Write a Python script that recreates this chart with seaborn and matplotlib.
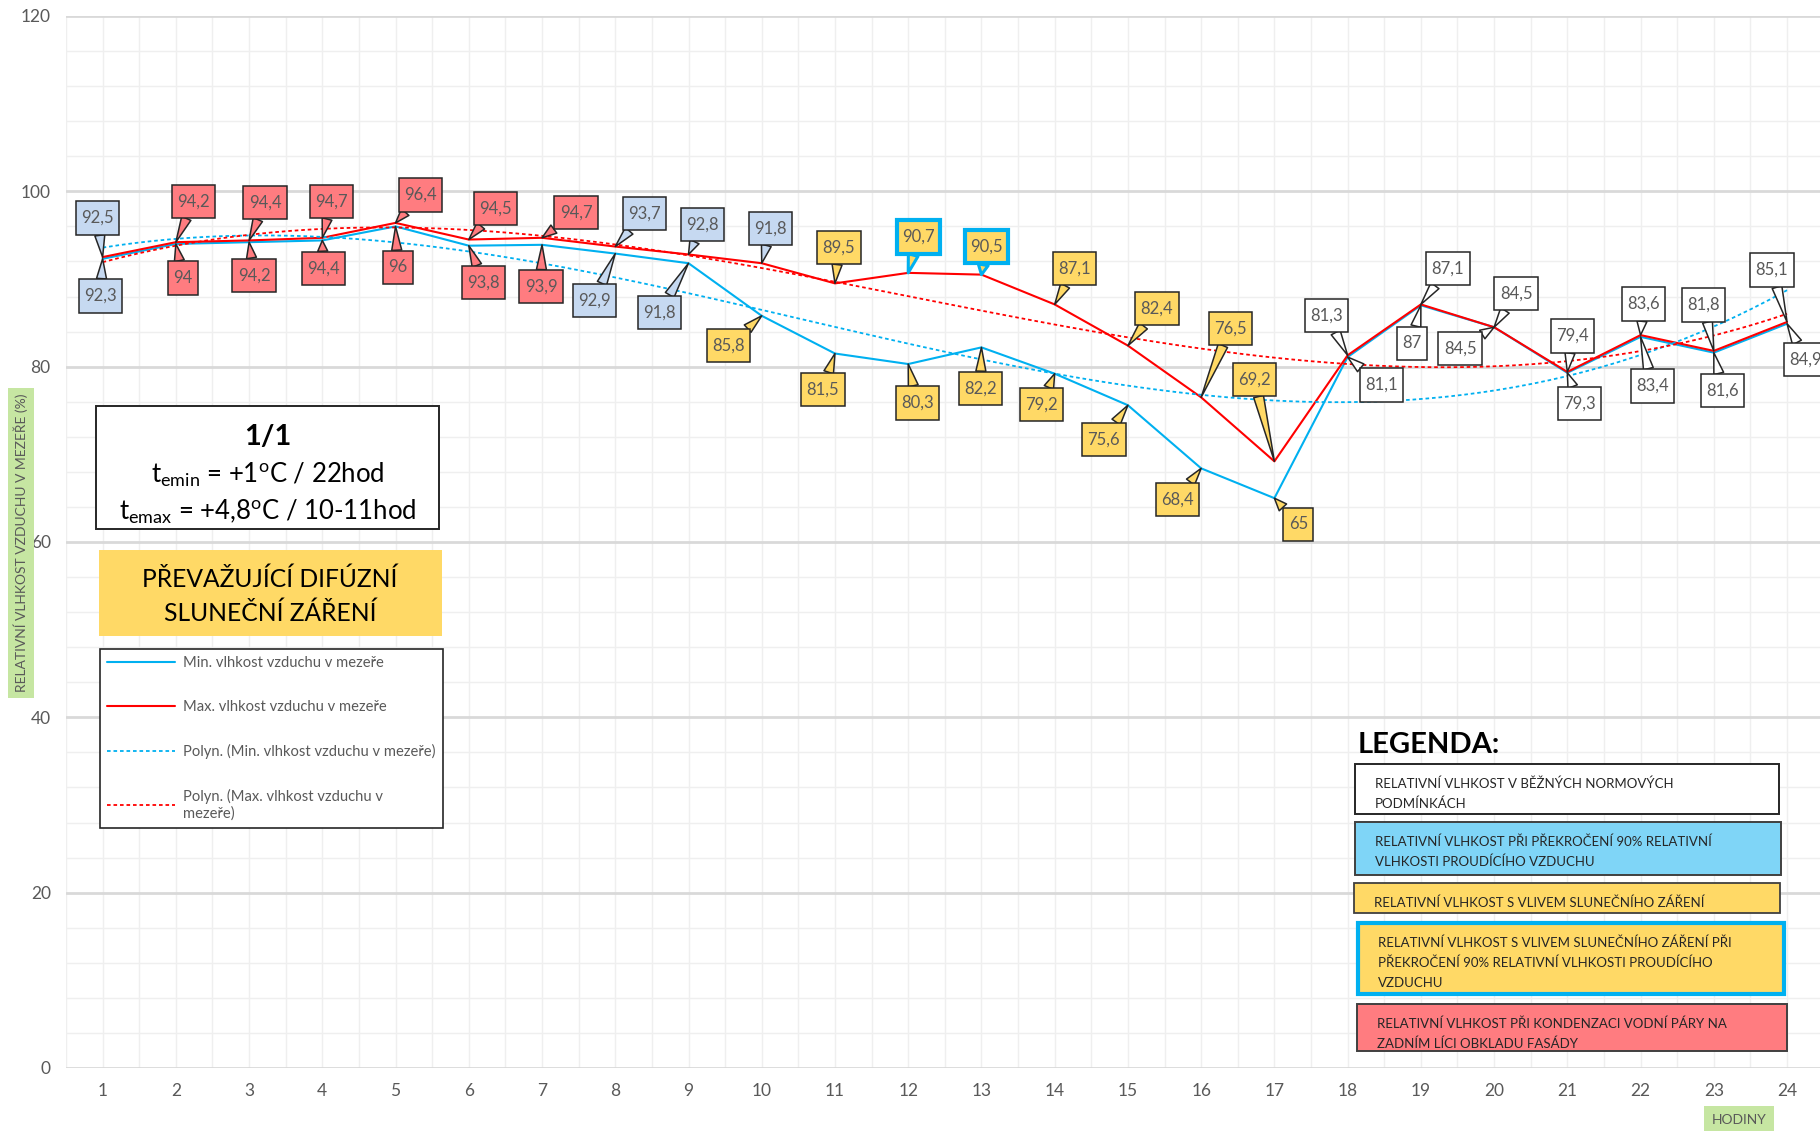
import numpy as np
import matplotlib.pyplot as plt
import seaborn as sns
from matplotlib.patches import Rectangle
from matplotlib.path import Path

# hodiny a relativni vlhkost v mezere (%)
hours = list(range(1, 25))
min_rh = [92.3, 94, 94.2, 94.4, 96, 93.8, 93.9, 92.9, 91.8, 85.8, 81.5, 80.3,
          82.2, 79.2, 75.6, 68.4, 65, 81.1, 87, 84.5, 79.3, 83.4, 81.6, 84.9]
max_rh = [92.5, 94.2, 94.4, 94.7, 96.4, 94.5, 94.7, 93.7, 92.8, 91.8, 89.5, 90.7,
          90.5, 87.1, 82.4, 76.5, 69.2, 81.3, 87.1, 84.5, 79.4, 83.6, 81.8, 85.1]
# typ stitku: b = bezne (modre), r = kondenzace, y = slunce, c = slunce + >90%, w = normove
max_kind = list('brrrrrrbbbyccyyyywwwwwww')
min_kind = list('brrrrrrbbyyyyyyyywwwwwww')
y_ticks = [0, 20, 40, 60, 80, 100, 120]

series_labels = ['Min. vlhkost vzduchu v mezeře', 'Max. vlhkost vzduchu v mezeře',
                 'Polyn. (Min. vlhkost vzduchu v mezeře)',
                 'Polyn. (Max. vlhkost vzduchu v\nmezeře)']
legend_rows = [
    ['RELATIVNÍ VLHKOST V BĚŽNÝCH NORMOVÝCH', 'PODMÍNKÁCH'],
    ['RELATIVNÍ VLHKOST PŘI PŘEKROČENÍ 90% RELATIVNÍ', 'VLHKOSTI PROUDÍCÍHO VZDUCHU'],
    ['RELATIVNÍ VLHKOST S VLIVEM SLUNEČNÍHO ZÁŘENÍ'],
    ['RELATIVNÍ VLHKOST S VLIVEM SLUNEČNÍHO ZÁŘENÍ PŘI',
     'PŘEKROČENÍ 90% RELATIVNÍ VLHKOSTI PROUDÍCÍHO', 'VZDUCHU'],
    ['RELATIVNÍ VLHKOST PŘI KONDENZACI VODNÍ PÁRY NA', 'ZADNÍM LÍCI OBKLADU FASÁDY'],
]

# polohy stitku (pixely od bodu, y dolu)
max_offsets = [(-5, -39), (18, -41), (16, -38), (9, -36), (25, -28), (27, -31),
               (34, -25), (29, -33), (14, -30), (9, -35), (4, -36), (10, -36),
               (5, -28), (20, -36), (29, -37), (29, -69), (-20, -82), (-21, -40),
               (27, -36), (22, -34), (5, -36), (3, -31), (-10, -46), (-15, -52)]
min_offsets = [(-2, 37), (7, 34), (5, 33), (1, 28), (2, 41), (15, 37),
               (-1, 42), (-21, 47), (-29, 49), (-33, 30), (-12, 36), (9, 39),
               (-1, 41), (-13, 31), (-24, 34), (-24, 31), (24, 26), (34, 28),
               (-9, 38), (-34, 21), (12, 31), (12, 49), (9, 38), (19, 36)]

BLUE = '#00B0F0'
RED = '#FF0000'
YELLOW = '#FFD966'
KIND_STYLE = {
    'b': ('#C6D9F1', '#262626', 1.1),
    'r': ('#FF7C80', '#262626', 1.1),
    'y': (YELLOW, '#262626', 1.1),
    'c': (YELLOW, BLUE, 3.0),
    'w': ('white', '#262626', 1.1),
}
TREND_ORDER = 3

W, H = 1820, 1131

sns.set_theme(style='white')
plt.rcParams['font.family'] = ['Lato', 'DejaVu Sans']
plt.rcParams['mathtext.fontset'] = 'custom'
plt.rcParams['mathtext.rm'] = 'Lato'


def fx(x):
    return x / W


def fy(y):
    return 1 - y / H


def box(x0, y0, x1, y1, fc, ec='#262626', lw=1.3):
    fig.add_artist(Rectangle((fx(x0), fy(y1)), (x1 - x0) / W, (y1 - y0) / H,
                             transform=fig.transFigure, fc=fc, ec=ec, lw=lw))


def label_box(x0, y0, width, height, mutation_size):
    # obdelnik stitku - vyssi nez sirsi okraj
    px = 0.32 * mutation_size
    py = 0.52 * mutation_size
    x0, y0 = x0 - px, y0 - py
    x1, y1 = x0 + width + 2 * px, y0 + height + 2 * py
    return Path([(x0, y0), (x1, y0), (x1, y1), (x0, y1), (x0, y0)], closed=True)


def fmt(v):
    return f'{v:g}'.replace('.', ',')


def callout(ax, h, v, off, kind):
    fc, ec, lw = KIND_STYLE[kind]
    ax.annotate(fmt(v), xy=(h, v), xytext=(off[0], -off[1]),
                textcoords='offset pixels', ha='center', va='center',
                fontsize=12, color='#595959', zorder=5, annotation_clip=False,
                bbox=dict(boxstyle=label_box, fc=fc, ec=ec, lw=lw),
                arrowprops=dict(arrowstyle='wedge,tail_width=0.6,shrink_factor=0.5',
                                fc=fc, ec=ec, lw=min(lw, 2.2),
                                shrinkA=0, shrinkB=0))


fig = plt.figure(figsize=(W / 100, H / 100), dpi=100)
ax = fig.add_axes([fx(66), fy(1068), 1 - fx(66), 1052 / H])

sns.lineplot(x=hours, y=min_rh, color=BLUE, lw=1.5, ax=ax, label=series_labels[0])
sns.lineplot(x=hours, y=max_rh, color=RED, lw=1.5, ax=ax, label=series_labels[1])
sns.regplot(x=hours, y=min_rh, order=TREND_ORDER, ci=None, scatter=False, ax=ax,
            label=series_labels[2],
            line_kws=dict(color=BLUE, lw=1.3, ls=(0, (2, 1.6))))
sns.regplot(x=hours, y=max_rh, order=TREND_ORDER, ci=None, scatter=False, ax=ax,
            label=series_labels[3],
            line_kws=dict(color=RED, lw=1.3, ls=(0, (2, 1.6))))

for h, v, off, k in zip(hours, max_rh, max_offsets, max_kind):
    callout(ax, h, v, off, k)
for h, v, off, k in zip(hours, min_rh, min_offsets, min_kind):
    callout(ax, h, v, off, k)

ax.set_xlim(0.5, 24.45)
ax.set_ylim(0, 120)
ax.set_xticks(hours)
ax.set_yticks(y_ticks)
ax.set_xticks(np.arange(0.5, 24.5, 0.5), minor=True)
ax.set_yticks(np.arange(0, 121, 4), minor=True)
ax.grid(which='minor', color='#EFEFEF', lw=1)
ax.grid(which='major', axis='x', color='#EFEFEF', lw=1)
ax.grid(which='major', axis='y', color='#D9D9D9', lw=2)
ax.set_axisbelow(True)
ax.tick_params(which='both', length=0, labelsize=12.5, labelcolor='#595959')
ax.tick_params(axis='x', pad=11)
ax.tick_params(axis='y', pad=11)
ax.set_xlabel('')
ax.set_ylabel('')
sns.despine(ax=ax, left=True, bottom=True)

handles, labels = ax.get_legend_handles_labels()
leg = ax.legend(handles, labels, loc='upper left',
                bbox_to_anchor=(fx(100), fy(649)), bbox_transform=fig.transFigure,
                borderaxespad=0, frameon=True, fancybox=False, edgecolor='#262626',
                framealpha=1, fontsize=10.6, labelcolor='#595959', handlelength=4.6,
                handletextpad=0.55, labelspacing=2.03, borderpad=0.5)
leg.get_frame().set_linewidth(1.2)

# info box
box(96, 406, 439, 529, 'white', lw=1.4)
fig.text(fx(268), fy(437), '1/1', fontsize=21, weight='bold', ha='center',
         va='center', color='black')
fig.text(fx(268), fy(475), r'$\mathregular{t_{emin}}$ = +1$\mathregular{^{o}}$C / 22hod',
         fontsize=18.5, ha='center', va='center', color='black')
fig.text(fx(268), fy(512), r'$\mathregular{t_{emax}}$ = +4,8$\mathregular{^{o}}$C / 10-11hod',
         fontsize=18.5, ha='center', va='center', color='black')

box(99, 550, 442, 636, YELLOW, ec='none', lw=0)
fig.text(fx(270), fy(579), 'PŘEVAŽUJÍCÍ DIFÚZNÍ', fontsize=17.7, ha='center',
         va='center', color='black')
fig.text(fx(270), fy(613), 'SLUNEČNÍ ZÁŘENÍ', fontsize=17.7, ha='center',
         va='center', color='black')

# osy - popisky
fig.text(fx(21), fy(543), 'RELATIVNÍ VLHKOST VZDUCHU V MEZEŘE (%)', rotation=90,
         fontsize=10, ha='center', va='center', color='#595959',
         bbox=dict(boxstyle='square,pad=0.4', fc='#C6E6A2', ec='none'))
fig.text(fx(1739), fy(1120), 'HODINY', fontsize=10, ha='center', va='center',
         color='#595959',
         bbox=dict(boxstyle='square,pad=0.55', fc='#C6E6A2', ec='none'))

# legenda vpravo
fig.text(fx(1358), fy(745), 'LEGENDA:', fontsize=21, weight='bold', va='center',
         color='black')
legend_boxes = [
    ((1355, 764, 1779, 814), 'white', '#262626', 1.4, 1375, [784, 804]),
    ((1355, 822, 1781, 875), '#7FD5F7', '#404040', 1.4, 1375, [842, 862]),
    ((1354, 883, 1780, 913), YELLOW, '#404040', 1.3, 1374, [903]),
    ((1358, 923, 1784, 994), YELLOW, BLUE, 3.0, 1378, [943, 963, 983]),
    ((1357, 1004, 1787, 1051), '#FF7C80', '#404040', 1.4, 1377, [1024, 1044]),
]
for (x0, y0, x1, y1), fc, ec, lw, tx, ys in legend_boxes:
    box(x0, y0, x1, y1, fc, ec=ec, lw=lw)
for (coords, fc, ec, lw, tx, ys), rows in zip(legend_boxes, legend_rows):
    for ty, row in zip(ys, rows):
        fig.text(fx(tx), fy(ty), row, fontsize=9.5, va='center', color='#262626')

fig.savefig('out.png', dpi=100)
